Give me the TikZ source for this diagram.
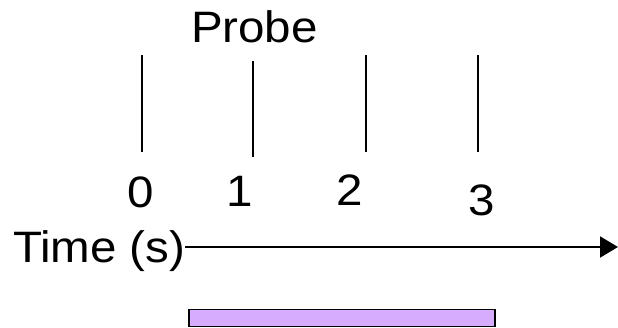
\documentclass[tikz,border=0pt]{standalone}
\usepackage{fontspec}
\setmainfont{Liberation Sans}
\usetikzlibrary{arrows.meta}
\definecolor{barfill}{RGB}{214,172,255}
\tikzset{
  lbl/.style={inner sep=0pt, outer sep=0pt, font=\fontsize{44}{50}\selectfont},
  tick/.style={line width=1.6pt, black},
  axis/.style={line width=2pt, black, -{Triangle[length=18pt,width=21pt]}},
  bar/.style={draw=black, line width=1.8pt, fill=barfill}
}
\newcommand{\wx}[1]{\scalebox{1.08}[1]{#1}}
\begin{document}
\begin{tikzpicture}[x=1pt,y=-1pt]
\useasboundingbox (0,0) rectangle (618,327);
% title
\node[lbl, anchor=base west] (probe) at (191,42) {\wx{Probe}};
% ticks
\draw[tick] (142,55) -- (142,152);
\draw[tick] (253,61) -- (253,157);
\draw[tick] (366,55) -- (366,152);
\draw[tick] (478,55) -- (478,152);
% tick labels
\node[lbl, anchor=base] (l0) at (141,207) {\wx{0}};
\node[lbl, anchor=base] (l1) at (239.5,206) {\wx{1}};
\node[lbl, anchor=base] (l2) at (349.5,205) {\wx{2}};
\node[lbl, anchor=base] (l3) at (481.5,215) {\wx{3}};
% axis
\node[lbl, anchor=base west] (time) at (13,262) {\wx{Time (s)}};
\coordinate (tend) at (618,247);
\draw[axis] (time.east |- tend) -- (tend);
% bar
\node[bar, inner sep=0pt, minimum width=306pt, minimum height=17pt, anchor=north west] (stim) at (188,308.5) {};
\end{tikzpicture}
\end{document}
